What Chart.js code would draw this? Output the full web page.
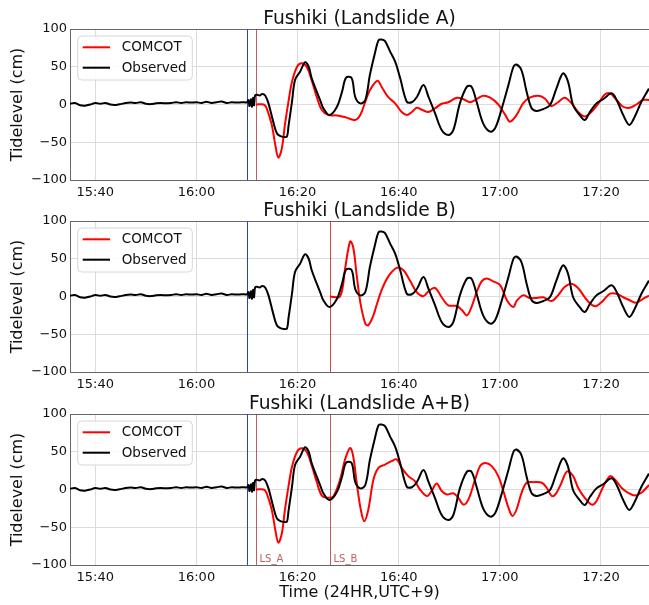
<!DOCTYPE html>
<html>
<head>
<meta charset="utf-8">
<title>Fushiki tide level</title>
<script src="https://cdn.jsdelivr.net/npm/chart.js@4.4.1/dist/chart.umd.min.js"></script>
<style>
  html, body { margin: 0; padding: 0; background: #fff; overflow: hidden; }
  body { width: 649px; height: 605px; position: relative; }
  .panel { position: absolute; left: 0; }
</style>
</head>
<body>
<div class="panel" style="top:0px"><canvas id="chartA" width="649" height="200"></canvas></div>
<div class="panel" style="top:192px"><canvas id="chartB" width="649" height="200"></canvas></div>
<div class="panel" style="top:385px"><canvas id="chartAB" width="649" height="220"></canvas></div>
<script>
// times are minutes after 15:40
const T0 = 15 * 60 + 40;
const tickMinutes = [0, 20, 40, 60, 80, 100];
const xStart = -5, xEnd = 109.5;
const eventTime = 30;      // blue line, 16:10
const lsATime = 31.8;      // landslide A
const lsBTime = 46.4;      // landslide B

const obsT = [-5, -4, -3, -2, -1, 0, 1, 2, 3, 4, 5, 6, 7, 8, 9, 10, 11, 12, 13, 14, 15, 16, 17, 18, 19, 20,
  21, 22, 23, 24, 25, 26, 27, 28, 29, 30, 30.3, 30.5, 30.8, 31.0, 31.2, 31.4, 31.6, 32.0, 32.5, 33.0, 33.6,
  34.25, 35.2, 35.9, 36.6, 37.3, 37.9, 38.2, 38.9, 39.5, 40.5, 41.5, 42.2, 42.8, 43.8, 44.5, 45.1, 46.3,
  47.8, 48.8, 49.6, 50.7, 51.4, 52.4, 53.4, 54.3, 55.3, 56.0, 56.6, 57.3, 58.3, 59.3, 60.3, 61.6, 62.6,
  63.6, 64.9, 65.9, 67.2, 68.5, 69.8, 70.8, 72.1, 73.5, 74.4, 75.4, 76.7, 78.1, 79.1, 80.4, 81.7, 82.7,
  83.3, 84.3, 85.3, 86.3, 87.3, 88.6, 89.9, 91.2, 92.5, 93.5, 94.5, 95.8, 96.8, 97.8, 99.1, 100.5, 102.1,
  103.1, 104.4, 105.6, 106.7, 108.0, 109.3, 109.5];
const obsV = [1, 2, -1, -1.5, 0, 2, 1, 2, 0, -0.5, 0.5, 2, 2.5, 2, 3, 1, 0.5, 1.5, 2, 1.5, 2, 3, 2, 3, 2.5, 3,
  2, 3.5, 2, 3, 4, 2, 3, 2.5, 3, 3, 6, -2, 7, -3, 9, -1, 12, 13, 12, 14, 12,
  1.5, -23, -38, -42, -43, -42.6, -29, 3.7, 32.5, 43.5, 56, 50, 34.7, 17, 5, -5, -14,
  -3, 17, 35.5, 35, 10, 1.5, 6, 39, 68, 85, 86, 84, 70, 56.7, 34.7, 3.7, 3,
  10, 25.8, 10, -11.7, -33.8, -40.4, -34, 1.5, 23.6, 23.6, 3.7, -25, -36, -31, -5, 25.8, 50,
  53, 45, 17, -5, -8.6, -6, -1, 21.4, 41.3, 30, -1, -14, -20.5, -10, 1.5, 7.3, 14.8,
  6, -14, -27, -16, 3.7, 19, 21];

const comAT = [31.8, 33.3, 33.9, 34.9, 35.6, 36.2, 36.9, 37.5, 38.2, 38.9, 39.9, 40.8, 41.8, 42.8, 43.8,
  44.8, 46.1, 47.8, 49.7, 51.4, 52.4, 53.4, 54.3, 55.8, 56.6, 57.9, 59.3, 60.6, 61.6, 62.6, 63.6, 64.6,
  65.9, 67.2, 68.5, 69.8, 71.5, 72.8, 74.1, 75.4, 76.7, 78.1, 79.7, 81.1, 82.0, 83.3, 84.6, 85.9, 87.6,
  88.9, 90.2, 91.5, 92.8, 94.2, 95.5, 96.8, 98.1, 99.5, 100.8, 101.8, 103.1, 104.4, 105.7, 107.0, 108.3, 109.5];
const comAV = [0, 0, -5, -27, -53.6, -70.4, -58, -27, 3.7, 30, 50, 54.5, 50, 32, 10,
  -7.3, -14, -14.5, -17.4, -20.5, -14, 3.7, 19, 31.5, 23.6, 10, 1.5, -10, -14, -10, -4.4, -7,
  -10, -5, 1, 3, 9, 7, 3, 7, 11.7, 9, 0, -14, -22.7, -14, 1.5, 9, 11.7,
  8, -2, 3, 9, 1.5, -10, -16, -10, 1.5, 13.5, 14.8, 6, -3, -4.4, 0, 6, 6];

const comBT = [46.4, 48.4, 49.4, 50.4, 51.0, 51.7, 52.4, 53.4, 54.0, 55.0, 55.6, 56.6, 57.9, 59.6, 60.9,
  62.2, 63.6, 64.9, 65.9, 67.2, 68.5, 69.8, 71.5, 72.5, 73.5, 74.4, 75.4, 76.4, 77.4, 78.7, 80.1, 81.4,
  82.7, 83.3, 84.6, 85.9, 87.3, 88.6, 90.2, 91.5, 92.8, 94.2, 95.5, 96.8, 98.1, 99.1, 100.5, 101.8, 103.1,
  104.4, 105.7, 107.0, 108.3, 109.5];
const comBV = [0, 0, 37, 73, 65.6, 28, -7.3, -36, -38, -25, -12, 8, 26, 37.8, 35,
  21.5, 5.5, 0.5, 7, 11.3, -1, -11.7, -12.5, -18, -25, -14, 5.5, 20, 24, 20, 14.8, -5,
  -14, -6, 1.5, -2, -2, -1, -6, 1.5, 12.6, 17, 11, -1, -10.8, -12.5, -5, 3.7, 3.7,
  -1, -5, -8.3, -3, 1];

const comABT = [31.8, 33.3, 33.9, 34.9, 35.6, 36.2, 36.9, 37.5, 38.2, 38.9, 39.9, 40.8, 41.8, 42.8, 43.8,
  44.8, 46.1, 47.1, 48.4, 49.4, 50.4, 51.0, 51.7, 52.5, 53.2, 54.0, 55.0, 56.0, 57.3, 58.6, 59.6, 60.6,
  61.9, 63.2, 64.2, 65.6, 66.5, 67.5, 68.5, 69.5, 70.8, 71.8, 72.8, 73.8, 75.1, 76.1, 77.1, 78.4, 79.7,
  80.7, 81.7, 82.5, 83.3, 84.3, 85.3, 86.6, 88.3, 89.3, 90.3, 91.2, 92.2, 93.3, 94.5, 95.5, 96.8, 98.2,
  99.1, 100.5, 101.8, 102.8, 104.1, 105.4, 106.7, 108.0, 109.5];
const comABV = [0, 0, -5, -27, -53.6, -70.4, -58, -27, 3.7, 30, 50, 54.5, 50, 32, 10,
  -8, -11, -9, 13, 40, 55, 44, 9, -26.5, -42, -26.5, 13, 28.7, 33, 37.5, 40, 28.7,
  17.7, 11, 0, -8.8, -2, 8, -2, -6.6, -5, -11, -20, -13, 13, 31, 35, 31, 17.7,
  -2, -24, -35, -26.5, -4.4, 9, 9.7, 9, 2, -8.8, -4.4, 9, 24, 17.7, 2, -11, -20,
  -15.5, 4.4, 17.7, 13, 2, -4.4, -8, -4.4, 6];

Chart.defaults.font.family = 'DejaVu Sans';
Chart.defaults.color = '#111';

function toPoints(ts, vs) {
  return ts.map((t, i) => ({ x: T0 + t, y: vs[i] }));
}

function clock(m) {
  const h = Math.floor(m / 60), mm = Math.round(m % 60);
  return h + ':' + String(mm).padStart(2, '0');
}

// legend in a rounded box, upper left of the plot
const boxLegend = {
  id: 'boxLegend',
  afterDatasetsDraw(chart) {
    const { ctx, chartArea: a } = chart;
    const x = a.left + 7.7, y = a.top + 7;
    ctx.save();
    ctx.beginPath();
    ctx.roundRect(x, y, 114.6, 44, 4);
    ctx.fillStyle = 'rgba(255,255,255,0.85)';
    ctx.fill();
    ctx.strokeStyle = '#d6d6d6';
    ctx.lineWidth = 1;
    ctx.stroke();
    ctx.font = '13.5px "DejaVu Sans"';
    ctx.textBaseline = 'middle';
    chart.data.datasets.forEach((ds, i) => {
      const ly = y + 11.3 + i * 20.4;
      ctx.strokeStyle = ds.borderColor;
      ctx.lineWidth = 2;
      ctx.beginPath();
      ctx.moveTo(x + 5, ly);
      ctx.lineTo(x + 32.3, ly);
      ctx.stroke();
      ctx.fillStyle = '#111';
      ctx.fillText(ds.label, x + 44, ly + 0.5);
    });
    ctx.restore();
  }
};

// vertical marker lines (event start and landslide times)
const vLines = {
  id: 'vLines',
  beforeDatasetsDraw(chart, args, opts) {
    const { ctx, chartArea: a, scales } = chart;
    ctx.save();
    (opts.lines || []).forEach(l => {
      const px = Math.round(scales.x.getPixelForValue(T0 + l.t)) + 0.5;
      ctx.strokeStyle = l.color;
      ctx.lineWidth = 1;
      ctx.beginPath();
      ctx.moveTo(px, a.top);
      ctx.lineTo(px, a.bottom);
      ctx.stroke();
      if (l.text) {
        ctx.fillStyle = l.color;
        ctx.font = '10px "DejaVu Sans"';
        ctx.textBaseline = 'alphabetic';
        ctx.fillText(l.text, px + 3, a.bottom - 3);
      }
    });
    ctx.restore();
  }
};

function makeChart(id, title, comT, comV, lines, xTitle) {
  const ctx = document.getElementById(id).getContext('2d');
  return new Chart(ctx, {
    type: 'line',
    data: {
      datasets: [
        { label: 'COMCOT', data: toPoints(comT, comV), borderColor: '#ff0000', order: 1 },
        { label: 'Observed', data: toPoints(obsT, obsV), borderColor: '#000000', order: 0 }
      ]
    },
    options: {
      responsive: false,
      animation: false,
      layout: { padding: 0 },
      elements: {
        point: { radius: 0 },
        line: { borderWidth: 2, tension: 0.35, fill: false }
      },
      plugins: {
        legend: { display: false },
        tooltip: { enabled: false },
        title: {
          display: true,
          text: title,
          fullSize: false,
          color: '#111',
          font: { size: 18.7, weight: 'normal', lineHeight: 1 },
          padding: { top: 10, bottom: 0.3 }
        },
        vLines: { lines: lines }
      },
      scales: {
        x: {
          type: 'linear',
          min: T0 + xStart,
          max: T0 + xEnd,
          afterBuildTicks: s => { s.ticks = tickMinutes.map(m => ({ value: T0 + m })); },
          afterFit: s => { s.height = xTitle ? 40 : 20; },
          ticks: { callback: v => clock(v), font: { size: 13 }, padding: 5, maxRotation: 0, color: '#111' },
          grid: { color: '#dcdcdc', drawTicks: false },
          border: { color: '#666' },
          title: {
            display: !!xTitle,
            text: xTitle,
            font: { size: 16 },
            color: '#111',
            padding: { top: 0, bottom: 3 }
          }
        },
        y: {
          min: -100,
          max: 100,
          afterFit: s => { s.width = 70; },
          ticks: {
            stepSize: 50,
            font: { size: 13 },
            padding: 3,
            color: '#111',
            callback: v => String(v).replace('-', '\u2212')
          },
          grid: {
            drawTicks: false,
            color: c => Math.abs(c.tick.value) === 100 ? '#666' : '#dcdcdc'
          },
          border: { color: '#666' },
          title: {
            display: true,
            text: 'Tidelevel (cm)',
            font: { size: 16 },
            color: '#111',
            padding: { top: 8.5, bottom: 0 }
          }
        }
      }
    },
    plugins: [boxLegend, vLines]
  });
}

const blue = '#1f3fe6';
makeChart('chartA', 'Fushiki (Landslide A)', comAT, comAV,
  [{ t: eventTime, color: blue }, { t: lsATime, color: 'rgba(165,42,42,0.75)' }]);
makeChart('chartB', 'Fushiki (Landslide B)', comBT, comBV,
  [{ t: eventTime, color: blue }, { t: lsBTime, color: 'rgba(190,30,30,0.8)' }]);
makeChart('chartAB', 'Fushiki (Landslide A+B)', comABT, comABV,
  [{ t: eventTime, color: blue },
   { t: lsATime, color: 'rgba(165,42,42,0.75)', text: 'LS_A' },
   { t: lsBTime, color: 'rgba(165,42,42,0.75)', text: 'LS_B' }],
  'Time (24HR,UTC+9)');
</script>
</body>
</html>
